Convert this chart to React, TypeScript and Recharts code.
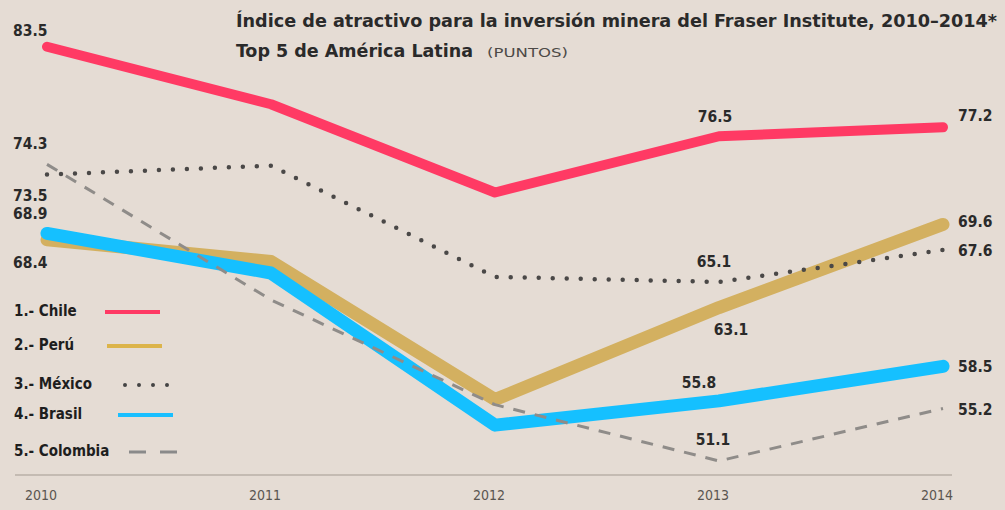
import { LineChart, Line, XAxis, YAxis, LabelList } from "recharts";

const years = ["2010", "2011", "2012", "2013", "2014"];
const chile = [83.5, 79.0, 72.1, 76.5, 77.2];
const peru = [68.4, 66.7, 55.9, 63.1, 69.6];
const mexico = [73.5, 74.2, 65.5, 65.1, 67.6];
const brasil = [68.9, 65.8, 53.9, 55.8, 58.5];
const colombia = [74.3, 63.7, 55.5, 51.1, 55.2];

const data = years.map((year, i) => ({
  year,
  chile: chile[i],
  peru: peru[i],
  mexico: mexico[i],
  brasil: brasil[i],
  colombia: colombia[i],
}));

const FONT = "'DejaVu Sans Condensed', 'Liberation Sans Narrow', 'Noto Sans', sans-serif";
const BG = "#e5dcd4";
const INK = "#2a2a2a";

// label placement per point index: [dx, dy, anchor]
type Offset = [number, number, "start" | "middle" | "end"];
const chileLabels: Record<number, Offset> = { 0: [-34, -16, "start"], 3: [-4, -19, "middle"], 4: [15, -11, "start"] };
const peruLabels: Record<number, Offset> = { 0: [-34, 23, "start"], 3: [12, 22, "middle"], 4: [15, -2, "start"] };
const mexicoLabels: Record<number, Offset> = { 0: [-34, 21, "start"], 3: [-5, -20, "middle"], 4: [15, 1, "start"] };
const brasilLabels: Record<number, Offset> = { 0: [-34, -19, "start"], 3: [-20, -18, "middle"], 4: [15, 1, "start"] };
const colombiaLabels: Record<number, Offset> = { 0: [-34, -20, "start"], 3: [-6, -21, "middle"], 4: [15, 1, "start"] };

const makeLabel = (offsets: Record<number, Offset>) => (props: any) => {
  const { x, y, value, index } = props;
  const o = offsets[index];
  if (!o) return null;
  return (
    <text
      x={x + o[0]}
      y={y + o[1]}
      textAnchor={o[2]}
      dominantBaseline="central"
      fontFamily={FONT}
      fontSize={15.5}
      fontWeight={700}
      fill={INK}
    >
      {Number(value).toFixed(1)}
    </text>
  );
};

const legendItems = [
  { label: "1.- Chile", y: 311, x: 105, color: "#ff3a64", dash: undefined, width: 4, cap: "butt" },
  { label: "2.- Perú", y: 345, x: 107, color: "#dcb44a", dash: undefined, width: 4, cap: "butt" },
  { label: "3.- México", y: 384, x: 125, color: "#444", dash: "0 14", width: 4, cap: "round" },
  { label: "4.- Brasil", y: 414, x: 118, color: "#18bfff", dash: undefined, width: 4, cap: "butt" },
  { label: "5.- Colombia", y: 451, x: 129, color: "#8a8a8a", dash: "17 14", width: 3, cap: "butt" },
];

const YearTick = (props: any) => {
  const { x, y, payload } = props;
  return (
    <text x={x - 6} y={y + 17} textAnchor="middle" fontFamily={FONT} fontSize={14} fill="#5a5550">
      {payload.value}
    </text>
  );
};

export default function App() {
  return (
    <div style={{ position: "absolute", left: 0, top: 0, width: 1005, height: 510, background: BG }}>
      <LineChart width={1005} height={510} data={data} margin={{ top: 2, right: 53, bottom: 5, left: 15 }}>
        <XAxis
          dataKey="year"
          padding={{ left: 32, right: 9 }}
          axisLine={{ stroke: "#a39a91", strokeWidth: 1 }}
          tickLine={false}
          tick={<YearTick />}
          height={30}
        />
        <YAxis hide domain={[50, 87]} />
        <Line
          dataKey="chile"
          stroke="#ff3a64"
          strokeWidth={10}
          strokeLinecap="round"
          strokeLinejoin="round"
          dot={false}
          activeDot={false}
          isAnimationActive={false}
        >
          <LabelList dataKey="chile" content={makeLabel(chileLabels)} />
        </Line>
        <Line
          dataKey="peru"
          stroke="#d3b060"
          strokeWidth={13}
          strokeLinecap="round"
          strokeLinejoin="round"
          dot={false}
          activeDot={false}
          isAnimationActive={false}
        >
          <LabelList dataKey="peru" content={makeLabel(peruLabels)} />
        </Line>
        <Line
          dataKey="brasil"
          stroke="#15c0ff"
          strokeWidth={13}
          strokeLinecap="round"
          strokeLinejoin="round"
          dot={false}
          activeDot={false}
          isAnimationActive={false}
        >
          <LabelList dataKey="brasil" content={makeLabel(brasilLabels)} />
        </Line>
        <Line
          dataKey="colombia"
          stroke="#8f8c89"
          strokeWidth={3}
          strokeDasharray="12 10"
          dot={false}
          activeDot={false}
          isAnimationActive={false}
        >
          <LabelList dataKey="colombia" content={makeLabel(colombiaLabels)} />
        </Line>
        <Line
          dataKey="mexico"
          stroke="#4a4847"
          strokeWidth={4.5}
          strokeDasharray="0 14"
          strokeLinecap="round"
          dot={false}
          activeDot={false}
          isAnimationActive={false}
        >
          <LabelList dataKey="mexico" content={makeLabel(mexicoLabels)} />
        </Line>
      </LineChart>

      <svg
        width={1005}
        height={510}
        style={{ position: "absolute", left: 0, top: 0, pointerEvents: "none" }}
      >
        <text
          x={236}
          y={27}
          fontFamily={FONT}
          fontSize={18}
          fontWeight={700}
          fill={INK}
          textLength={761}
          lengthAdjust="spacingAndGlyphs"
        >
          Índice de atractivo para la inversión minera del Fraser Institute, 2010–2014*
        </text>
        <text x={236} y={57} fontFamily={FONT} fontSize={18} fontWeight={700} fill={INK} textLength={237} lengthAdjust="spacingAndGlyphs">
          Top 5 de América Latina
        </text>
        <text x={487} y={57} fontFamily={FONT} fontSize={12.5} fill="#4d4a47" textLength={81} lengthAdjust="spacingAndGlyphs">
          (PUNTOS)
        </text>
        {legendItems.map((item) => (
          <g key={item.label}>
            <text
              x={14}
              y={item.y}
              dominantBaseline="central"
              fontFamily={FONT}
              fontSize={15}
              fontWeight={700}
              fill="#1e1e1e"
            >
              {item.label}
            </text>
            <line
              x1={item.x}
              x2={item.x + 55}
              y1={item.y + 1}
              y2={item.y + 1}
              stroke={item.color}
              strokeWidth={item.width}
              strokeDasharray={item.dash}
              strokeLinecap={item.cap as any}
            />
          </g>
        ))}
      </svg>
    </div>
  );
}
